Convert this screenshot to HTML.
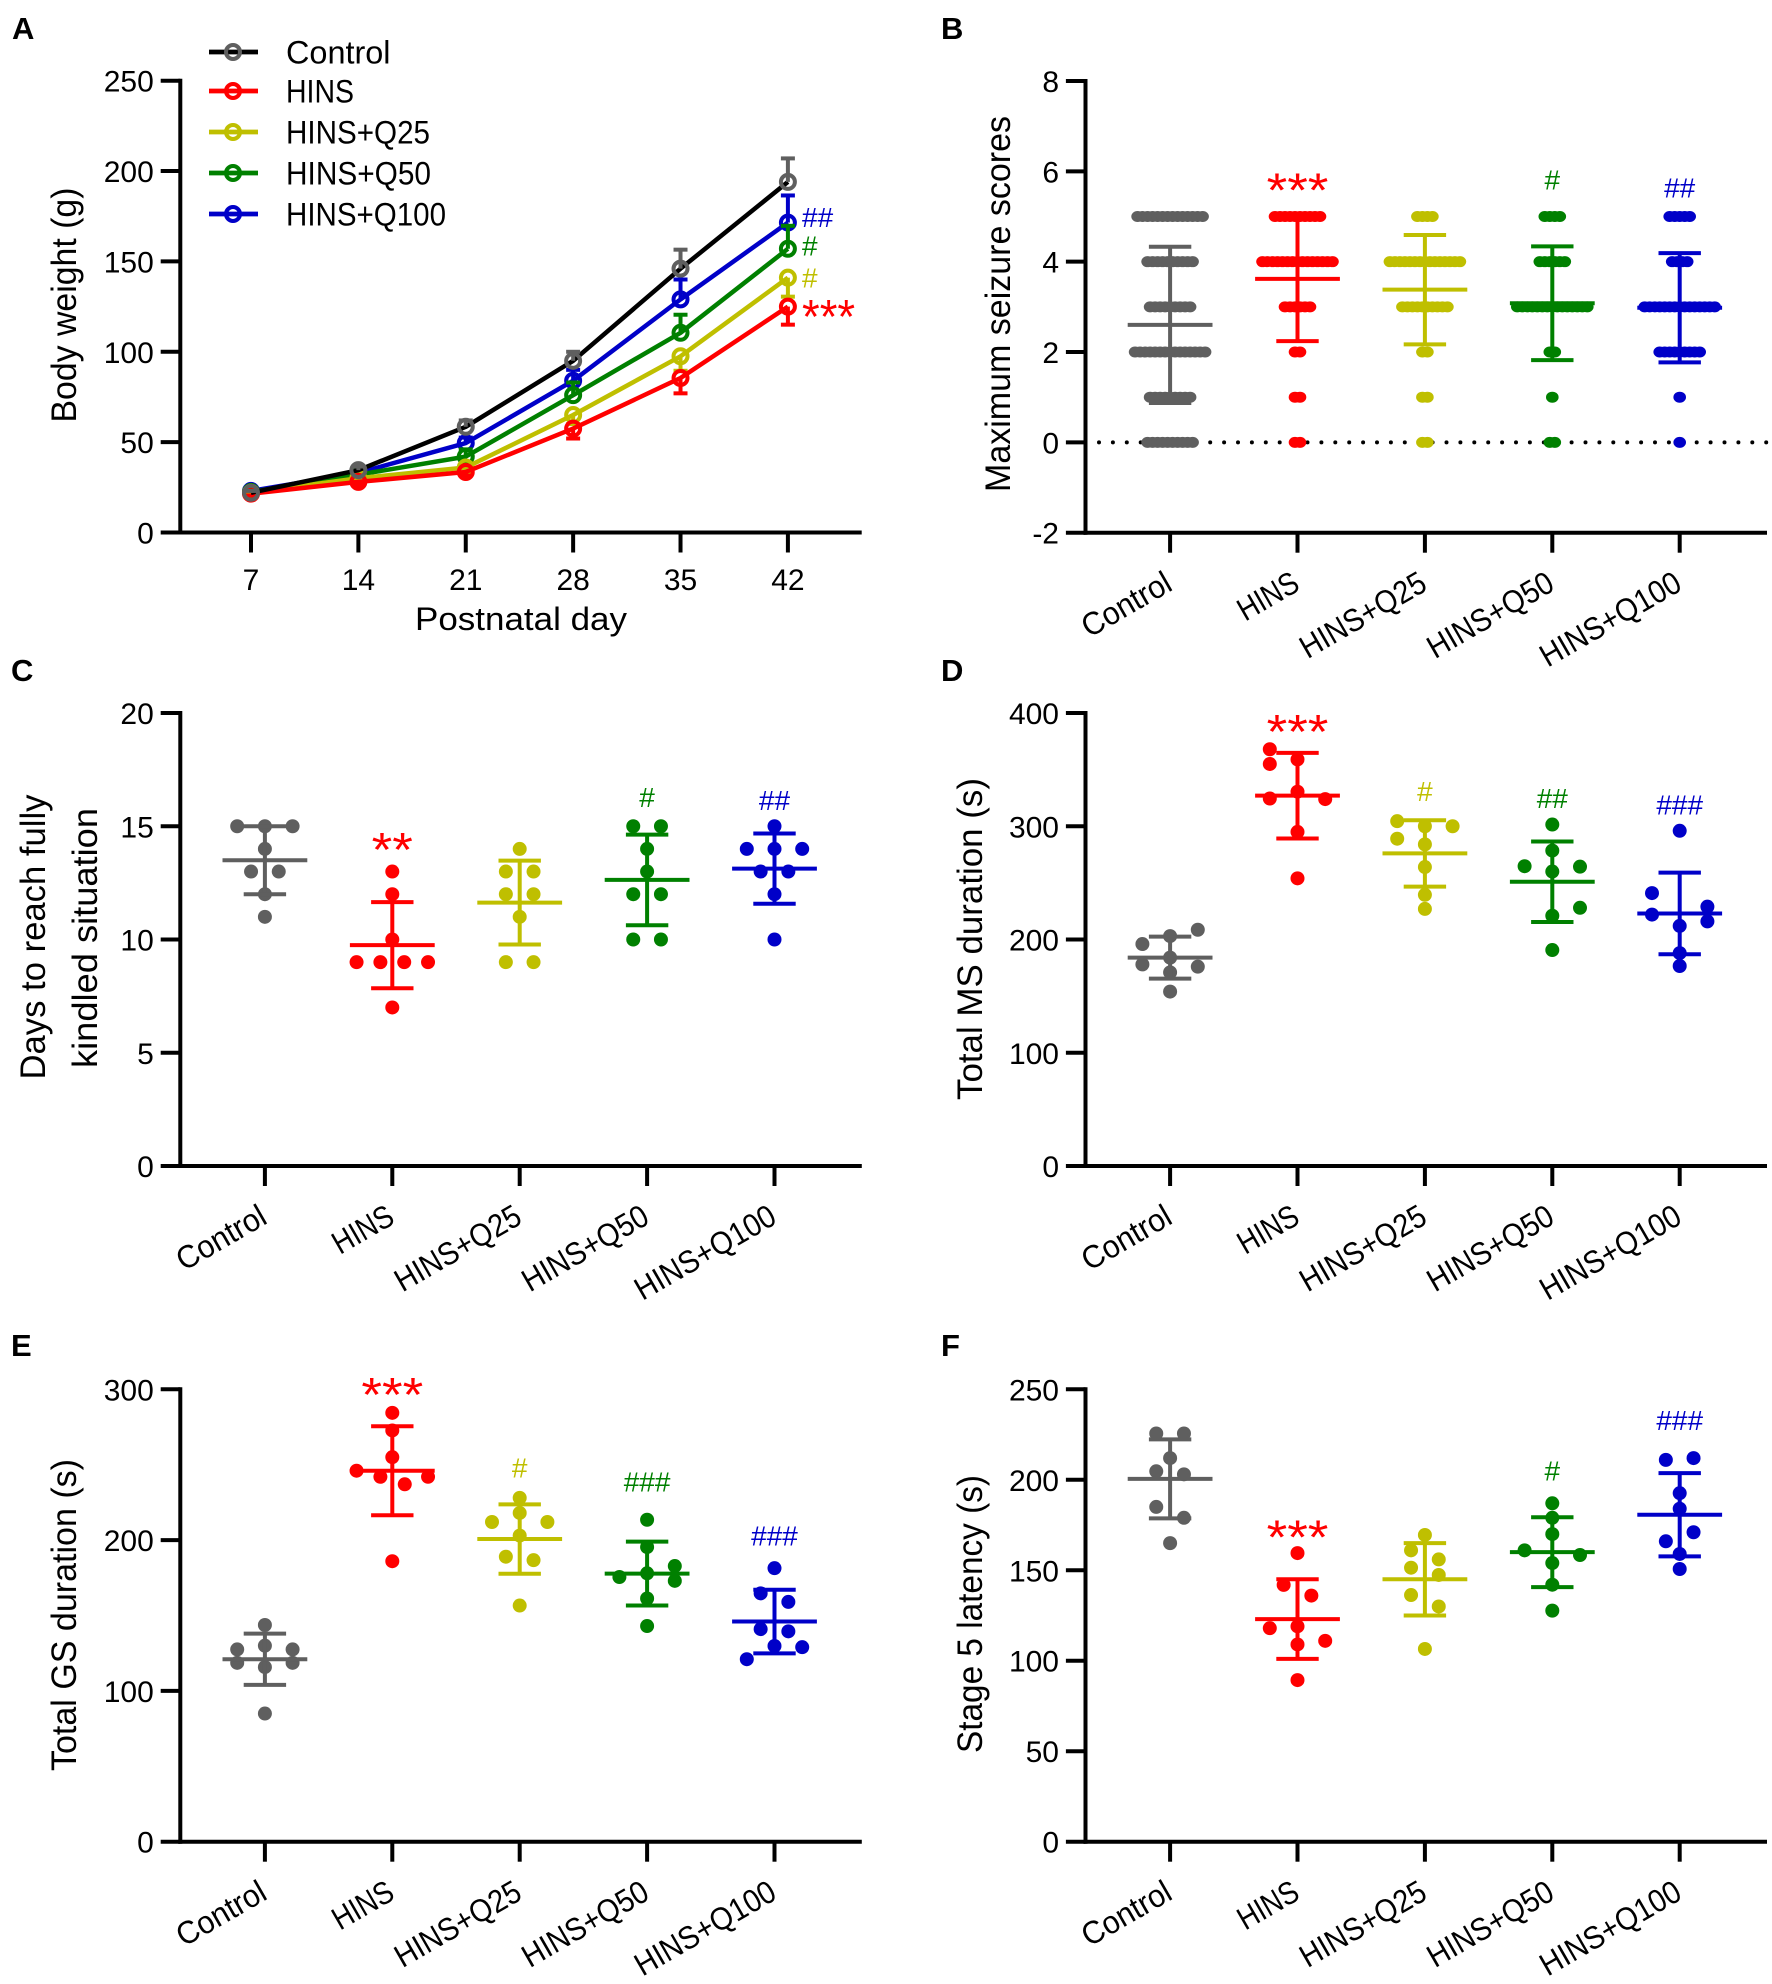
<!DOCTYPE html>
<html lang="en">
<head>
<meta charset="utf-8">
<title>Body weight and seizure outcomes</title>
<style>
html,body{margin:0;padding:0;background:#fff;}
svg{display:block;}
text{font-family:"Liberation Sans",sans-serif;fill:#000;}
.panel-letter{font-weight:bold;font-size:31px;}
.y-title{font-size:35px;}
</style>
</head>
<body>
<svg id="figure" xmlns="http://www.w3.org/2000/svg" width="1772" height="1984" viewBox="0 0 1772 1984">
<rect x="0" y="0" width="1772" height="1984" fill="#ffffff"/>
<text class="panel-letter" x="12" y="39">A</text>
<text class="panel-letter" x="941" y="39">B</text>
<text class="panel-letter" x="11" y="681">C</text>
<text class="panel-letter" x="941" y="681">D</text>
<text class="panel-letter" x="11" y="1356">E</text>
<text class="panel-letter" x="941" y="1356">F</text>

<text class="y-title" transform="translate(76,305) rotate(-90)" text-anchor="middle" textLength="235" lengthAdjust="spacingAndGlyphs">Body weight (g)</text>
<text x="521" y="630" font-size="32" text-anchor="middle" textLength="212" lengthAdjust="spacingAndGlyphs">Postnatal day</text>
<text class="y-title" transform="translate(1010,304) rotate(-90)" text-anchor="middle" textLength="376" lengthAdjust="spacingAndGlyphs">Maximum seizure scores</text>
<text class="y-title" transform="translate(45,937) rotate(-90)" text-anchor="middle" textLength="285" lengthAdjust="spacingAndGlyphs">Days to reach fully</text>
<text class="y-title" transform="translate(97,938) rotate(-90)" text-anchor="middle" textLength="260" lengthAdjust="spacingAndGlyphs">kindled situation</text>
<text class="y-title" transform="translate(982,939) rotate(-90)" text-anchor="middle" textLength="322" lengthAdjust="spacingAndGlyphs">Total MS duration (s)</text>
<text class="y-title" transform="translate(76,1615) rotate(-90)" text-anchor="middle" textLength="312" lengthAdjust="spacingAndGlyphs">Total GS duration (s)</text>
<text class="y-title" transform="translate(982,1614) rotate(-90)" text-anchor="middle" textLength="278" lengthAdjust="spacingAndGlyphs">Stage 5 latency (s)</text>
</svg>
<script>
/* ---------- shared categories ---------- */
const groupLabels = ['Control','HINS','HINS+Q25','HINS+Q50','HINS+Q100'];
const groupColors = ['#5f5f5f','#ff0000','#bfbf00','#008000','#0000c8'];

/* ---------- panel A: body weight ---------- */
const postnatalDays = [7,14,21,28,35,42];
const weightTicks = [0,50,100,150,200,250];
const controlWeight = [22,34.5,58.5,95,146,194];
const hinsWeight = [21.5,28,33.5,57.5,85.5,125];
const q25Weight = [22,30,36,65,97.5,141];
const q50Weight = [22.5,32,42,76,110.5,157];
const q100Weight = [23,33,49.5,84,129,171.5];
const controlWeightSD = [1,2,3.5,5,10.5,13];
const hinsWeightSD = [1,2,2,5.5,8.5,10];
const q25WeightSD = [1,2,3,5,8,10.5];
const q50WeightSD = [1,2,4,7,10,12.7];
const q100WeightSD = [1,2,3,6,11,15];
const weightMarks = ['','***','#','#','##'];
const weightMarkValues = [0,123,141,158.7,174.7];

/* ---------- panel B: maximum seizure scores ---------- */
const seizureTicks = [-2,0,2,4,6,8];
const seizureScores = [0,1,2,3,4,5];
const seizureCounts = [
  [10,9,15,9,10,14],
  [2,2,2,6,15,10],
  [2,2,2,10,15,4],
  [2,1,2,15,6,4],
  [1,1,9,15,4,5]
];
const seizureMeans = [2.6,3.62,3.38,3.08,2.98];
const seizureSD = [1.73,1.38,1.21,1.26,1.21];
const seizureMarks = ['','***','','#','##'];
const seizureMarkValues = [0,5.73,0,5.82,5.64];

/* ---------- panel C: days to fully kindled ---------- */
const kindledTicks = [0,5,10,15,20];
const kindledValues = [
  [15,15,15,14,13,13,12,11],
  [13,12,10,9,9,9,9,7],
  [14,13,13,12,12,11,9,9],
  [15,15,14,13,12,12,10,10],
  [15,14,14,14,13,13,12,10]
];
const kindledColumns = [
  [-1,0,1,0,-0.5,0.5,0,0],
  [0,0,0,-1.29,-0.43,0.43,1.29,0],
  [0,-0.5,0.5,-0.5,0.5,0,-0.5,0.5],
  [-0.5,0.5,0,0,-0.5,0.5,-0.5,0.5],
  [0,-1,0,1,-0.5,0.5,0,0]
];
const kindledMeans = [13.5,9.75,11.63,12.63,13.13];
const kindledSD = [1.5,1.9,1.85,2,1.55];
const kindledMarks = ['','**','','#','##'];
const kindledMarkValues = [0,14.27,0,16.3,16.15];

/* ---------- panel D: total MS duration ---------- */
const msTicks = [0,100,200,300,400];
const msValues = [
  [208.6,203,196,184,178,176,171,154],
  [368,359,355,330.5,324.5,324,295,254],
  [304.5,300,300,289,284,264,239.5,227],
  [301.5,278.5,264.7,264.3,260,228,221,190.7],
  [296,241,229,222,216,212,188,176.6]
];
const msColumns = [
  [1,0,-1,0,-1,1,0,0],
  [-1,0,-1,0,-1,1,0,0],
  [-1,0,1,-1,0,0,0,0],
  [0,0,-1,1,0,1,0,0],
  [0,-1,1,-1,1,0,0,0]
];
const msMeans = [184,327,276,251,223];
const msSD = [18.5,37.8,29.3,35.5,36];
const msMarks = ['','***','#','##','###'];
const msMarkValues = [0,389.6,331,325,319];

/* ---------- panel E: total GS duration ---------- */
const gsTicks = [0,100,200,300];
const gsValues = [
  [143.7,130,127.5,127.5,118.6,118.6,115.8,85],
  [284.4,272.7,255,246,242,242,237,186],
  [228,218,212,212,203,189,186.7,156.6],
  [213.5,195.4,182.8,178,175.5,173,161.3,143],
  [181.4,164.7,159,141,139.5,129.8,129,121]
];
const gsColumns = [
  [0,0,-1,1,-1,1,0,0],
  [0,0,0,-1.29,-0.43,1.29,0.45,0],
  [0,0,-1,1,0,-0.5,0.5,0],
  [0,0,1,0,-1,1,0,0],
  [0,-0.5,0.5,-0.5,0.5,0,1,-1]
];
const gsMeans = [121,246,200.7,177.8,146];
const gsSD = [17,29.5,23,21.2,21.1];
const gsMarks = ['','***','#','###','###'];
const gsMarkValues = [0,301,248,239,203];

/* ---------- panel F: stage 5 latency ---------- */
const latencyTicks = [0,50,100,150,200,250];
const latencyValues = [
  [225.6,225.6,212,204.7,203,185,179,165],
  [159.5,141.9,136,118,119,111,109,89.3],
  [169.5,161,156,151.4,147.4,136.3,130,106.5],
  [187,179,170,161,158.4,154,142,127.7],
  [211,212,192.6,184,171,166,159,150.7]
];
const latencyColumns = [
  [-0.5,0.5,0,-0.5,0.5,-0.5,0.5,0],
  [0,-0.5,0.5,-1,0,1,0,0],
  [0,-0.5,0.5,-0.5,0.5,-0.5,0.5,0],
  [0,0,0,-1,1,0,0,0],
  [-0.5,0.5,0,0,0.5,-0.5,0,0]
];
const latencyMeans = [200.5,123,145,160,180.7];
const latencySD = [21.8,22,20,19.3,23];
const latencyMarks = ['','***','','#','###'];
const latencyMarkValues = [0,172,0,205,233];

/* ---------- drawing helpers ---------- */
const SVGNS = 'http://www.w3.org/2000/svg';
const figure = document.getElementById('figure');
function mk(tag, attrs, parent, content) {
  const el = document.createElementNS(SVGNS, tag);
  for (const k in attrs) el.setAttribute(k, attrs[k]);
  if (content !== undefined) el.textContent = content;
  parent.appendChild(el);
  return el;
}
function linearY(vmin, vmax, top, bottom) {
  return v => bottom - (v - vmin) / (vmax - vmin) * (bottom - top);
}
function bandX(left) {
  return i => left + 84.6 + i * 127.4;
}

function drawAxes(g, left, right, top, bottom, y, ticks) {
  const yAxis = mk('line', {x1:left, x2:left, y1:top-2, y2:bottom+2, stroke:'#000', 'stroke-width':4}, g);
  
  
  const xAxis = mk('line', {x1:left-2, x2:right, y1:bottom, y2:bottom, stroke:'#000', 'stroke-width':4}, g);
  
  
  ticks.forEach(t => {
    const tick = mk('line', {x1:left-19.6, x2:left, y1:y(t), y2:y(t), stroke:'#000', 'stroke-width':4}, g);
    
    
    const label = mk('text', {x:left-26.5, y:y(t)+11, 'font-size':30, 'text-anchor':'end'}, g, String(t));
    
    
  });
}

function drawCategoryAxis(g, x, bottom) {
  const labelLengths = [98, 65, 140, 140, 157];
  groupLabels.forEach((name, i) => {
    const tick = mk('line', {x1:x(i), x2:x(i), y1:bottom, y2:bottom+20, stroke:'#000', 'stroke-width':4}, g);
    
    
    const attrs = {
      transform:'translate(' + (x(i)+4) + ',' + (bottom+56.5) + ') rotate(-30)',
      'font-size':32, 'text-anchor':'end', textLength:labelLengths[i], lengthAdjust:'spacingAndGlyphs'
    };
    const label = mk('text', attrs, g, name);
    
    
  });
}

function drawMeanSD(g, cx, y, mean, sd, color) {
  const stem = mk('line', {x1:cx, x2:cx, y1:y(mean+sd), y2:y(mean-sd), stroke:color, 'stroke-width':4}, g);
  
  
  const meanBar = mk('line', {x1:cx-42.4, x2:cx+42.4, y1:y(mean), y2:y(mean), stroke:color, 'stroke-width':4}, g);
  
  
  [mean+sd, mean-sd].forEach(v => {
    const cap = mk('line', {x1:cx-21.2, x2:cx+21.2, y1:y(v), y2:y(v), stroke:color, 'stroke-width':4}, g);
    
    
  });
}

function drawMark(g, cx, cy, text, color, anchor, starWidth) {
  const star = text.indexOf('*') >= 0;
  const attrs = {
    x:cx, y: star ? cy+23 : cy+10,
    'font-size': star ? 48 : 28,
    'text-anchor': anchor || 'middle',
    style:'fill:' + color
  };
  if (star) { attrs.textLength = text.length * (starWidth || 20.6); attrs.lengthAdjust = 'spacingAndGlyphs'; }
  const m = mk('text', attrs, g, text);
  
  
}

function drawDotPanel(name, left, top, bottom, vmax, ticks, values, columns, means, sds, marks, markValues) {
  const g = mk('g', {}, figure);
  
  
  const right = left + 681.5;
  const y = linearY(0, vmax, top, bottom);
  const x = bandX(left);
  groupLabels.forEach((label, i) => {
    values[i].forEach((v, j) => {
      const dot = mk('circle', {cx:x(i)+columns[i][j]*27.7, cy:y(v), r:7, fill:groupColors[i]}, g);
      
      
    });
    drawMeanSD(g, x(i), y, means[i], sds[i], groupColors[i]);
    if (marks[i]) drawMark(g, x(i), y(markValues[i]), marks[i], groupColors[i]);
  });
  drawAxes(g, left, right, top, bottom, y, ticks);
  drawCategoryAxis(g, x, bottom);
}

/* ---------- panel A ---------- */
(function () {
  const g = mk('g', {}, figure);
  
  
  const left = 180.3, right = 861.7, top = 80.7, bottom = 532.5;
  const y = linearY(0, 250, top, bottom);
  const x = d => 251 + (d - 7) * 15.34;
  const seriesValues = [controlWeight, hinsWeight, q25Weight, q50Weight, q100Weight];
  const seriesSD = [controlWeightSD, hinsWeightSD, q25WeightSD, q50WeightSD, q100WeightSD];
  const barDirection = [1, -1, -1, 1, 1];
  const lineColor = i => i === 0 ? '#000000' : groupColors[i];
  [4, 3, 2, 1, 0].forEach(i => {
    const pts = postnatalDays.map((d, k) => x(d) + ',' + y(seriesValues[i][k])).join(' ');
    const line = mk('polyline', {points:pts, fill:'none', stroke:lineColor(i), 'stroke-width':4.5, 'stroke-linejoin':'round'}, g);
    
    
    postnatalDays.forEach((d, k) => {
      const v = seriesValues[i][k];
      const end = v + barDirection[i] * seriesSD[i][k];
      const bar = mk('line', {x1:x(d), x2:x(d), y1:y(v), y2:y(end), stroke:groupColors[i], 'stroke-width':4}, g);
      
      
      const cap = mk('line', {x1:x(d)-7, x2:x(d)+7, y1:y(end), y2:y(end), stroke:groupColors[i], 'stroke-width':4}, g);
      
      
      const ring = mk('circle', {cx:x(d), cy:y(v), r:7, fill:'none', stroke:groupColors[i], 'stroke-width':4}, g);
      
      
    });
    if (weightMarks[i]) drawMark(g, 802, y(weightMarkValues[i]), weightMarks[i], groupColors[i], 'start', 17.7);
  });
  drawAxes(g, left, right, top, bottom, y, weightTicks);
  postnatalDays.forEach(d => {
    const tick = mk('line', {x1:x(d), x2:x(d), y1:bottom, y2:bottom+20, stroke:'#000', 'stroke-width':4}, g);
    
    
    const label = mk('text', {x:x(d), y:590, 'font-size':30, 'text-anchor':'middle'}, g, String(d));
    
    
  });
  /* legend */
  const legendWidths = [104.5, 68, 144, 145, 160];
  const legendRowY = [52, 91, 132, 173, 214];
  groupLabels.forEach((name, i) => {
    const row = mk('g', {}, g);
    
    
    const sample = mk('line', {x1:209, x2:258, y1:legendRowY[i], y2:legendRowY[i], stroke:lineColor(i), 'stroke-width':4.7}, row);
    
    
    const ring = mk('circle', {cx:233, cy:legendRowY[i], r:7, fill:'none', stroke:groupColors[i], 'stroke-width':4}, row);
    
    
    const label = mk('text', {x:286, y:legendRowY[i]+11.5, 'font-size':32, textLength:legendWidths[i], lengthAdjust:'spacingAndGlyphs'}, row, name);
    
    
  });
})();

/* ---------- panel B ---------- */
(function () {
  const g = mk('g', {}, figure);
  
  
  const left = 1085.5, right = 1767, top = 81, bottom = 532.7;
  const y = linearY(-2, 8, top, bottom);
  const x = bandX(left);
  const zero = mk('line', {x1:1099, x2:1767, y1:y(0), y2:y(0), stroke:'#000', 'stroke-width':4, 'stroke-linecap':'round', 'stroke-dasharray':'0 13.9'}, g);
  
  
  groupLabels.forEach((label, i) => {
    seizureScores.forEach((score, s) => {
      const n = seizureCounts[i][s];
      for (let k = 0; k < n; k++) {
        const dot = mk('ellipse', {cx:x(i) + (k - (n-1)/2) * 5, cy:y(score), rx:6.3, ry:5.5, fill:groupColors[i]}, g);
        
        
      }
    });
    drawMeanSD(g, x(i), y, seizureMeans[i], seizureSD[i], groupColors[i]);
    if (seizureMarks[i]) drawMark(g, x(i), y(seizureMarkValues[i]), seizureMarks[i], groupColors[i]);
  });
  drawAxes(g, left, right, top, bottom, y, seizureTicks);
  drawCategoryAxis(g, x, bottom);
})();

/* ---------- panels C-F ---------- */
drawDotPanel('panel-c-days-to-kindling', 180.3, 713, 1166, 20, kindledTicks, kindledValues, kindledColumns, kindledMeans, kindledSD, kindledMarks, kindledMarkValues);
drawDotPanel('panel-d-ms-duration', 1085.5, 713, 1166, 400, msTicks, msValues, msColumns, msMeans, msSD, msMarks, msMarkValues);
drawDotPanel('panel-e-gs-duration', 180.3, 1389.3, 1841.7, 300, gsTicks, gsValues, gsColumns, gsMeans, gsSD, gsMarks, gsMarkValues);
drawDotPanel('panel-f-stage5-latency', 1085.5, 1389.3, 1841.7, 250, latencyTicks, latencyValues, latencyColumns, latencyMeans, latencySD, latencyMarks, latencyMarkValues);
</script>
</body>
</html>
